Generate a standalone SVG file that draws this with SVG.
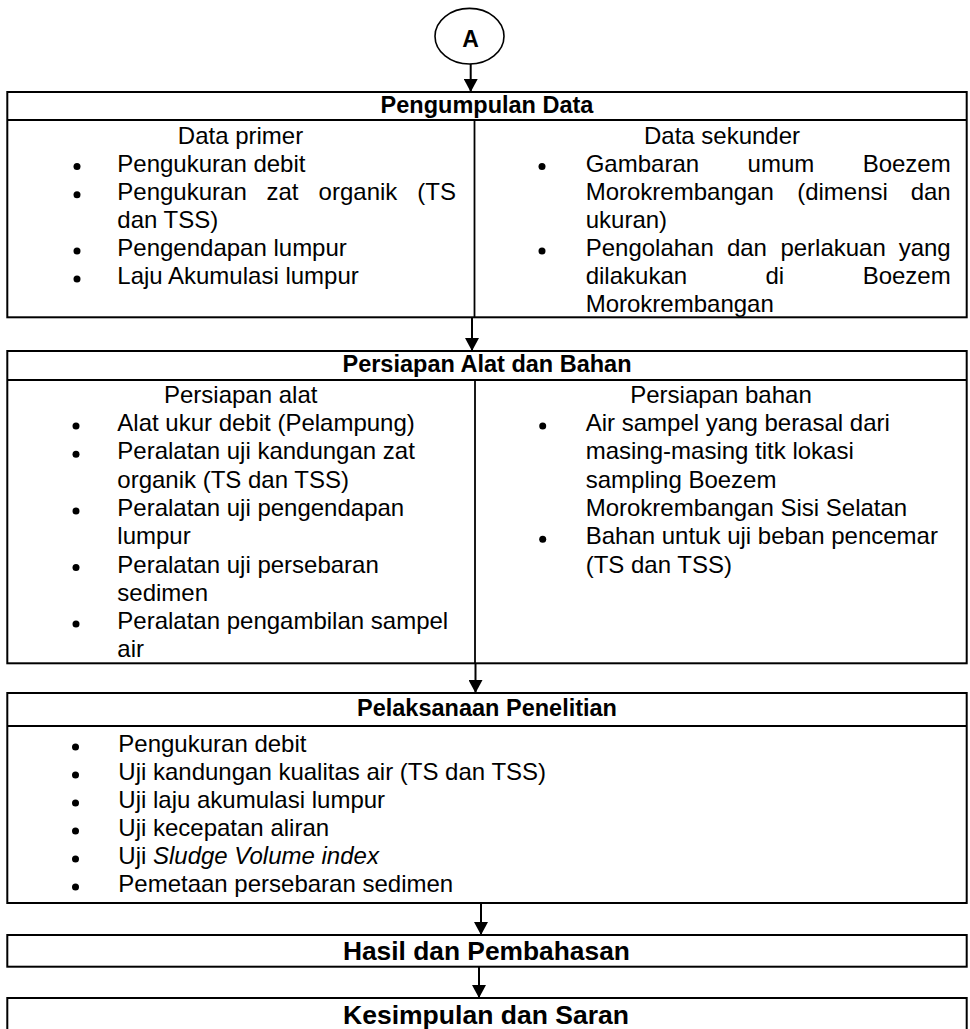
<svg xmlns="http://www.w3.org/2000/svg" width="970" height="1029" viewBox="0 0 970 1029">
<style>
  .t { font-family: "Liberation Sans", Arial, sans-serif; font-size: 24px; fill: #000; }
  .b { font-weight: bold; font-size: 23.5px; }
  .c { text-anchor: middle; }
  .e { text-anchor: end; }
  .i { font-style: italic; }
  .box { fill: #fff; stroke: #000; stroke-width: 2; }
  .ln { stroke: #000; stroke-width: 2; fill: none; }
  .dv { stroke: #000; stroke-width: 1.8; fill: none; }
  .dot { fill: #000; }
  .conn { stroke: #000; stroke-width: 2; fill: none; marker-end: url(#arr); }
</style>
<defs>
  <marker id="arr" markerUnits="userSpaceOnUse" markerWidth="14" markerHeight="14" refX="13" refY="7" orient="auto">
    <path d="M0,0 L13,7 L0,14 z" fill="#000"/>
  </marker>
</defs>
<rect width="970" height="1029" fill="#fff"/>

<g id="node-A">
  <ellipse cx="469.5" cy="36.2" rx="34.5" ry="27.8" fill="#fff" stroke="#000" stroke-width="1.6"/>
  <text class="t b c" x="470.5" y="46.5" style="font-size:23px">A</text>
</g>

<g id="node-pengumpulan">
  <rect class="box" x="7.3" y="92" width="959.4" height="225.3"/>
  <line class="ln" x1="7.3" y1="120" x2="966.7" y2="120"/>
  <line class="dv" x1="474.5" y1="120" x2="474.5" y2="317.3"/>
  <circle class="dot" cx="77" cy="166.6" r="3.5"/>
  <circle class="dot" cx="77" cy="194.7" r="3.5"/>
  <circle class="dot" cx="77" cy="250.9" r="3.5"/>
  <circle class="dot" cx="77" cy="279" r="3.5"/>
  <circle class="dot" cx="542" cy="166.6" r="3.5"/>
  <circle class="dot" cx="542" cy="250.9" r="3.5"/>
  <text class="t b c" x="487" y="112.5">Pengumpulan Data</text>
  <text class="t c" x="240.5" y="143.5">Data primer</text>
  <text class="t" x="117.3" y="171.6">Pengukuran debit</text>
  <text class="t" x="117.3" y="199.7">Pengukuran</text>
  <text class="t" x="266.5" y="199.7">zat</text>
  <text class="t" x="318.6" y="199.7">organik</text>
  <text class="t e" x="456" y="199.7">(TS</text>
  <text class="t" x="117.3" y="227.8">dan TSS)</text>
  <text class="t" x="117.3" y="255.9">Pengendapan lumpur</text>
  <text class="t" x="117.3" y="284">Laju Akumulasi lumpur</text>
  <text class="t c" x="722" y="143.5">Data sekunder</text>
  <text class="t" x="585.7" y="171.6">Gambaran</text>
  <text class="t" x="747.6" y="171.6">umum</text>
  <text class="t e" x="950.7" y="171.6">Boezem</text>
  <text class="t" x="585.7" y="199.7">Morokrembangan</text>
  <text class="t" x="797.2" y="199.7">(dimensi</text>
  <text class="t e" x="950.7" y="199.7">dan</text>
  <text class="t" x="585.7" y="227.8">ukuran)</text>
  <text class="t" x="585.7" y="255.9">Pengolahan</text>
  <text class="t" x="726.9" y="255.9">dan</text>
  <text class="t" x="780.4" y="255.9">perlakuan</text>
  <text class="t e" x="950.7" y="255.9">yang</text>
  <text class="t" x="585.7" y="284">dilakukan</text>
  <text class="t" x="765.5" y="284">di</text>
  <text class="t e" x="950.7" y="284">Boezem</text>
  <text class="t" x="585.7" y="312.1">Morokrembangan</text>
</g>

<g id="node-persiapan">
  <rect class="box" x="7.3" y="351" width="959.4" height="312.3"/>
  <line class="ln" x1="7.3" y1="380" x2="966.7" y2="380"/>
  <line class="dv" x1="475" y1="380" x2="475" y2="663.3"/>
  <circle class="dot" cx="76" cy="426" r="3.5"/>
  <circle class="dot" cx="76" cy="454.3" r="3.5"/>
  <circle class="dot" cx="76" cy="510.9" r="3.5"/>
  <circle class="dot" cx="76" cy="567.5" r="3.5"/>
  <circle class="dot" cx="76" cy="624.1" r="3.5"/>
  <circle class="dot" cx="542.7" cy="426" r="3.5"/>
  <circle class="dot" cx="542.7" cy="539.2" r="3.5"/>
  <text class="t b c" x="487" y="372">Persiapan Alat dan Bahan</text>
  <text class="t c" x="240.7" y="402.7">Persiapan alat</text>
  <text class="t" x="117.3" y="431">Alat ukur debit (Pelampung)</text>
  <text class="t" x="117.3" y="459.3">Peralatan uji kandungan zat</text>
  <text class="t" x="117.3" y="487.6">organik (TS dan TSS)</text>
  <text class="t" x="117.3" y="515.9">Peralatan uji pengendapan</text>
  <text class="t" x="117.3" y="544.2">lumpur</text>
  <text class="t" x="117.3" y="572.5">Peralatan uji persebaran</text>
  <text class="t" x="117.3" y="600.8">sedimen</text>
  <text class="t" x="117.3" y="629.1">Peralatan pengambilan sampel</text>
  <text class="t" x="117.3" y="657.4">air</text>
  <text class="t c" x="721" y="402.7">Persiapan bahan</text>
  <text class="t" x="585.7" y="431">Air sampel yang berasal dari</text>
  <text class="t" x="585.7" y="459.3">masing-masing titk lokasi</text>
  <text class="t" x="585.7" y="487.6">sampling Boezem</text>
  <text class="t" x="585.7" y="515.9">Morokrembangan Sisi Selatan</text>
  <text class="t" x="585.7" y="544.2">Bahan untuk uji beban pencemar</text>
  <text class="t" x="585.7" y="572.5">(TS dan TSS)</text>
</g>

<g id="node-pelaksanaan">
  <rect class="box" x="7.3" y="693" width="959.4" height="210"/>
  <line class="ln" x1="7.3" y1="726" x2="966.7" y2="726"/>
  <circle class="dot" cx="75.5" cy="747" r="3.5"/>
  <circle class="dot" cx="75.5" cy="775" r="3.5"/>
  <circle class="dot" cx="75.5" cy="803" r="3.5"/>
  <circle class="dot" cx="75.5" cy="831" r="3.5"/>
  <circle class="dot" cx="75.5" cy="859" r="3.5"/>
  <circle class="dot" cx="75.5" cy="887" r="3.5"/>
  <text class="t b c" x="487" y="716">Pelaksanaan Penelitian</text>
  <text class="t" x="118.3" y="752">Pengukuran debit</text>
  <text class="t" x="118.3" y="780">Uji kandungan kualitas air (TS dan TSS)</text>
  <text class="t" x="118.3" y="808">Uji laju akumulasi lumpur</text>
  <text class="t" x="118.3" y="836">Uji kecepatan aliran</text>
  <text class="t" x="118.3" y="864">Uji <tspan class="i">Sludge Volume index</tspan></text>
  <text class="t" x="118.3" y="892">Pemetaan persebaran sedimen</text>
</g>

<g id="node-hasil">
  <rect class="box" x="7.3" y="935" width="959.4" height="31.7"/>
  <text class="t b c" x="486.4" y="959.5" style="font-size:26px" textLength="287" lengthAdjust="spacingAndGlyphs">Hasil dan Pembahasan</text>
</g>

<g id="node-kesimpulan">
  <rect class="box" x="7.3" y="998" width="959.4" height="40"/>
  <text class="t b c" x="486" y="1023.5" style="font-size:26px" textLength="286" lengthAdjust="spacingAndGlyphs">Kesimpulan dan Saran</text>
</g>

<g id="connectors">
  <line class="conn" x1="470.7" y1="64" x2="470.7" y2="92"/>
  <line class="conn" x1="472" y1="317.3" x2="472" y2="351"/>
  <line class="conn" x1="475.5" y1="663.3" x2="475.5" y2="693"/>
  <line class="conn" x1="481" y1="903" x2="481" y2="935"/>
  <line class="conn" x1="479" y1="966.7" x2="479" y2="998"/>
</g>
</svg>
